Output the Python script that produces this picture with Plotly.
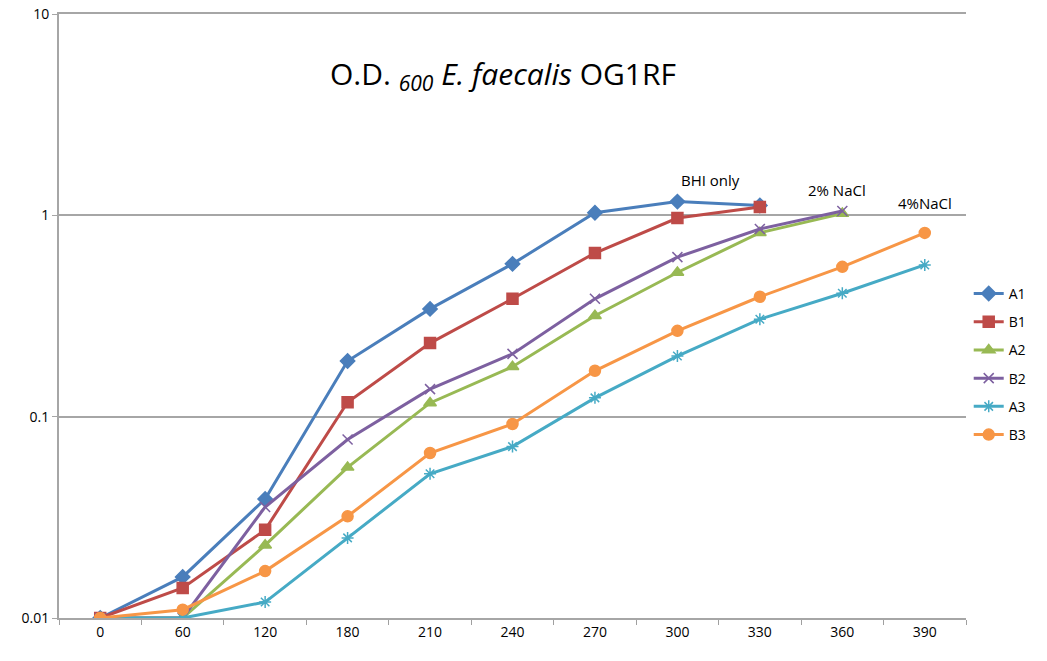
import plotly.graph_objects as go

times = ["0", "60", "120", "180", "210", "240", "270", "300", "330", "360", "390"]

A1 = [0.010, 0.016, 0.039, 0.189, 0.343, 0.574, 1.03, 1.17, 1.12]
B1 = [0.010, 0.0141, 0.0274, 0.118, 0.232, 0.385, 0.65, 0.97, 1.10]
A2 = [0.010, 0.010, 0.023, 0.056, 0.117, 0.177, 0.317, 0.52, 0.82, 1.02]
B2 = [0.010, 0.010, 0.0356, 0.077, 0.137, 0.205, 0.385, 0.62, 0.855, 1.05]
A3 = [0.010, 0.010, 0.012, 0.025, 0.052, 0.071, 0.124, 0.200, 0.305, 0.41, 0.567]
B3 = [0.010, 0.011, 0.0171, 0.032, 0.066, 0.092, 0.169, 0.267, 0.394, 0.555, 0.818]

series = [
    ("A1", A1, "#4a7ebb", "diamond", 11),
    ("B1", B1, "#be4b48", "square", 11),
    ("A2", A2, "#98b954", "triangle-up", 11),
    ("B2", B2, "#7d60a0", "x-thin-open", 10),
    ("A3", A3, "#46aac5", "asterisk-open", 10),
    ("B3", B3, "#f79646", "circle", 11),
]

# label text, category index position, log10 of y position
labels = [("BHI only", 7.4, 0.176), ("2% NaCl", 8.94, 0.126), ("4%NaCl", 10.0, 0.062)]

fig = go.Figure()
for i, (name, vals, color, sym, size) in enumerate(series):
    fig.add_trace(go.Scatter(
        x=times[:len(vals)], y=vals, name=name, mode="lines+markers",
        line=dict(color=color, width=3),
        marker=dict(symbol=sym, size=size, color=color,
                    line=dict(color=color, width=1.5)),
        legendgroup=name,
    ))

for text, xi, yv in labels:
    fig.add_annotation(x=xi, y=yv, xref="x", yref="y", text=text, showarrow=False,
                       xanchor="center", yanchor="middle",
                       font=dict(size=15, color="#000000"))

fig.add_annotation(xref="paper", yref="paper", x=0.49, y=0.899,
                   xanchor="center", yanchor="middle",
                   text="O.D. <sub><i>600</i></sub> <i>E. faecalis</i> OG1RF",
                   showarrow=False, font=dict(size=30, color="#000000"))

fig.update_layout(
    width=1047, height=661,
    margin=dict(l=59, r=81, t=14, b=43, autoexpand=False),
    paper_bgcolor="white", plot_bgcolor="white",
    font=dict(family="Open Sans, Liberation Sans, sans-serif", size=14, color="#000000"),
    showlegend=True,
    legend=dict(x=1.003, y=0.563, xanchor="left", yanchor="top",
                font=dict(size=14), tracegroupgap=7, itemwidth=30,
                bgcolor="rgba(0,0,0,0)"),
)
fig.update_xaxes(type="category", categoryorder="array", categoryarray=times,
                 tickson="boundaries", ticks="outside", ticklen=5,
                 tickcolor="#a0a0a0", showline=True, linecolor="#a6a6a6",
                 linewidth=2, mirror=True, showgrid=False, tickfont=dict(size=14),
                 range=[-0.5, 10.5])
fig.update_yaxes(type="log", range=[-2, 1], tickvals=[0.01, 0.1, 1, 10],
                 ticktext=["0.01", "0.1", "1", "10"], showgrid=True,
                 gridcolor="#a6a6a6", gridwidth=1.5, showline=True,
                 linecolor="#a6a6a6", linewidth=2, ticks="outside", ticklen=5,
                 tickcolor="#a6a6a6", zeroline=False,
                 tickfont=dict(size=14))

fig.write_html("out.html", config={"displayModeBar": False},
               post_script="document.body.style.margin='0';document.body.style.overflow='hidden';")
